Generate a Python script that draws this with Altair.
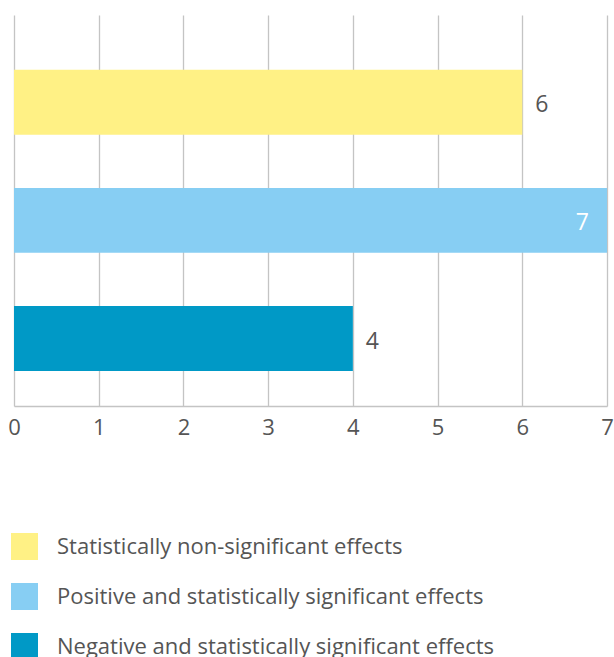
import altair as alt
import pandas as pd

categories = [
    "Statistically non-significant effects",
    "Positive and statistically significant effects",
    "Negative and statistically significant effects",
]
values = [6, 7, 4]
colors = ["#FFF185", "#87CEF3", "#0099C6"]
ticks = [0, 1, 2, 3, 4, 5, 6, 7]

df = pd.DataFrame({"category": categories, "value": values})
df["inside"] = df["value"] == max(values)

FONT = "Open Sans"
GRAY = "#555555"

y_enc = alt.Y(
    "category:N",
    sort=categories,
    axis=None,
    scale=alt.Scale(paddingInner=0.45, paddingOuter=0.38, align=0.61),
)
x_enc = alt.X(
    "value:Q",
    scale=alt.Scale(domain=[0, 7], nice=False),
    axis=alt.Axis(
        values=ticks,
        format="d",
        title=None,
        grid=True,
        gridColor="#c4c4c4",
        gridWidth=1.3,
        domain=True,
        domainColor="#c4c4c4",
        domainWidth=1.3,
        ticks=False,
        labelFont=FONT,
        labelFontSize=22,
        labelColor=GRAY,
        labelPadding=11,
        labelFlush=False,
    ),
)

bars = alt.Chart(df).mark_bar().encode(
    x=x_enc,
    y=y_enc,
    color=alt.Color(
        "category:N",
        sort=categories,
        scale=alt.Scale(domain=categories, range=colors),
        legend=alt.Legend(
            title=None,
            orient="none",
            legendX=-3,
            legendY=518,
            direction="vertical",
            symbolType="square",
            symbolSize=729,
            symbolStrokeWidth=0,
            symbolOpacity=1,
            labelFont=FONT,
            labelFontSize=22,
            labelColor=GRAY,
            labelOffset=19,
            labelBaseline="middle",
            rowPadding=23,
            padding=0,
            labelLimit=600,
        ),
    ),
)

outside = alt.Chart(df).transform_filter("!datum.inside").mark_text(
    align="left", baseline="middle", dx=13, dy=3, font=FONT, fontSize=23, color=GRAY
).encode(x="value:Q", y=alt.Y("category:N", sort=categories), text=alt.Text("value:Q", format="d"))

inside = alt.Chart(df).transform_filter("datum.inside").mark_text(
    align="right", baseline="middle", dx=-18, dy=3, font=FONT, fontSize=23, color="white"
).encode(x="value:Q", y=alt.Y("category:N", sort=categories), text=alt.Text("value:Q", format="d"))

chart = (
    alt.layer(bars, outside, inside)
    .properties(
        width=593,
        height=391,
        autosize=alt.AutoSizeParams(type="none"),
        padding={"left": 14, "top": 15, "right": 7, "bottom": 251},
    )
    .configure_view(stroke=None)
)

chart.save("out.html", embed_options={"renderer": "svg", "actions": False})
